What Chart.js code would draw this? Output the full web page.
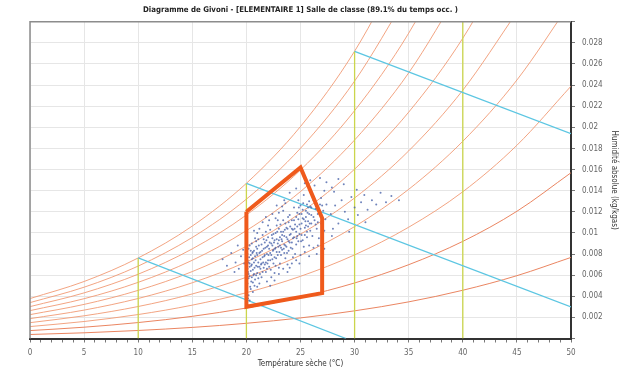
<!DOCTYPE html>
<html lang="fr">
<head>
    <meta charset="UTF-8">
    <title>Diagramme de Givoni</title>
    <script src="https://cdn.jsdelivr.net/npm/chart.js"></script>
    <style>
        body, html {
            margin: 0;
            padding: 0;
            background: #fff;
        }
        canvas { display: block; }
    </style>
</head>
<body>
    <canvas id="givoni" width="631" height="370"></canvas>

    <script>
        // Températures (°C) où les courbes d'humidité relative sont relevées
        const temperatures = [0, 5, 10, 15, 20, 25, 30, 35, 40, 45, 50];

        // Courbes d'humidité relative 10 % ... 100 % (kg/kgas)
        const hr10  = [0.00038, 0.00054, 0.00076, 0.00105, 0.00144, 0.00195, 0.00262, 0.00347, 0.00457, 0.00595, 0.00768];
        const hr20  = [0.00075, 0.00107, 0.00151, 0.00210, 0.00289, 0.00392, 0.00526, 0.00699, 0.00920, 0.01205, 0.01570];
        const hr30  = [0.00113, 0.00161, 0.00227, 0.00316, 0.00434, 0.00589, 0.00792, 0.01054, 0.01390, 0.01830, 0.02390];
        const hr40  = [0.00150, 0.00215, 0.00303, 0.00422, 0.00580, 0.00788, 0.01060, 0.01413, 0.01868, 0.02448, 0.03188];
        const hr50  = [0.00188, 0.00269, 0.00379, 0.00528, 0.00726, 0.00988, 0.01331, 0.01777, 0.02352, 0.03091];
        const hr60  = [0.00226, 0.00323, 0.00456, 0.00634, 0.00874, 0.01190, 0.01604, 0.02144, 0.02844, 0.03750];
        const hr70  = [0.00264, 0.00377, 0.00532, 0.00741, 0.01022, 0.01392, 0.01880, 0.02516, 0.03344];
        const hr80  = [0.00302, 0.00432, 0.00609, 0.00849, 0.01170, 0.01596, 0.02158, 0.02892, 0.03850];
        const hr90  = [0.00340, 0.00486, 0.00686, 0.00957, 0.01320, 0.01802, 0.02438, 0.03273];
        const hr100 = [0.00378, 0.00540, 0.00763, 0.01065, 0.01470, 0.02008, 0.02721, 0.03658];

        // Droites verticales de température sèche (bas -> courbe de saturation)
        const droitesT = [10, 20, 30, 40];
        const droitesTHaut = [0.00763, 0.0147, 0.0272, 0.03];

        // Droites isenthalpes (début sur la saturation, fin au bord)
        const isenthalpesDebut = [[10, 0.00763], [20, 0.0147], [30, 0.0272]];
        const isenthalpesFin = [[29.2, 0], [50, 0.0030], [50, 0.0194]];

        // Zone de confort (polygone)
        const zoneT = [20, 25, 27, 27, 20, 20];
        const zoneW = [0.0120, 0.0162, 0.0114, 0.0043, 0.0030, 0.0120];

        // Heures d'occupation relevées [T, w]
        const heuresOcc = [
            [20.1,0.0052],[20.2,0.0061],[20.3,0.0068],[20.1,0.0074],[20.4,0.0079],[20.2,0.0085],[20.5,0.0058],[20.6,0.0065],
            [20.3,0.0071],[20.7,0.0083],[20.4,0.0047],[20.8,0.0056],[20.9,0.0069],[20.6,0.0076],[20.5,0.0090],[21.0,0.0062],
            [21.1,0.0072],[21.2,0.0081],[20.9,0.0087],[21.3,0.0066],[21.4,0.0058],[21.1,0.0094],[21.5,0.0077],[21.6,0.0085],
            [21.2,0.0052],[21.7,0.0070],[21.8,0.0063],[21.5,0.0098],[21.9,0.0080],[22.0,0.0074],[20.2,0.0041],[20.3,0.0036],
            [20.6,0.0044],[21.0,0.0049],[20.1,0.0080],[20.3,0.0088],[20.7,0.0072],[20.8,0.0095],[21.4,0.0089],[21.7,0.0091],
            [20.4,0.0064],[20.9,0.0060],[21.3,0.0075],[21.6,0.0067],[21.9,0.0087],[20.5,0.0070],[21.0,0.0079],[21.8,0.0101],
            [20.2,0.0057],[20.6,0.0082],
            [22.1,0.0068],[22.2,0.0081],[22.3,0.0090],[22.4,0.0075],[22.5,0.0099],[22.6,0.0062],[22.7,0.0086],[22.8,0.0107],
            [22.9,0.0079],[23.0,0.0093],[23.1,0.0071],[23.2,0.0101],[23.3,0.0084],[23.4,0.0112],[23.5,0.0089],[23.6,0.0076],
            [23.7,0.0096],[23.8,0.0104],[23.9,0.0083],[24.0,0.0117],[22.3,0.0058],[22.5,0.0084],[22.8,0.0094],[23.0,0.0067],
            [23.3,0.0098],[23.6,0.0109],[23.9,0.0092],[22.2,0.0103],[22.6,0.0077],[23.1,0.0088],[23.5,0.0081],[23.8,0.0070],
            [22.4,0.0095],[22.9,0.0112],[23.4,0.0121],[22.0,0.0088],[22.7,0.0069],[23.2,0.0079],[23.7,0.0087],[24.0,0.0098],
            [24.1,0.0086],[24.2,0.0104],[24.3,0.0095],[24.4,0.0112],[24.5,0.0080],[24.6,0.0101],[24.7,0.0119],[24.8,0.0092],
            [24.9,0.0108],[25.0,0.0126],[25.1,0.0098],[25.2,0.0114],[25.3,0.0087],[25.4,0.0105],[25.5,0.0121],[25.6,0.0096],
            [25.7,0.0111],[25.8,0.0130],[25.9,0.0102],[26.0,0.0117],[24.3,0.0077],[24.6,0.0089],[24.9,0.0099],[25.2,0.0093],
            [25.5,0.0107],[25.8,0.0088],[24.4,0.0124],[24.8,0.0131],[25.3,0.0136],[25.7,0.0124],[24.2,0.0091],[24.7,0.0106],
            [25.1,0.0118],[25.6,0.0101],[26.0,0.0109],
            [26.1,0.0097],[26.3,0.0112],[26.4,0.0123],[26.5,0.0104],[26.6,0.0118],[26.8,0.0127],[26.9,0.0109],[27.0,0.0115],
            [27.1,0.0121],[27.2,0.0102],[26.2,0.0131],[26.7,0.0095],[27.3,0.0113],[27.4,0.0127],[26.4,0.0108],[27.0,0.0098],
            [26.9,0.0133],
            [17.8,0.0075],[18.2,0.0069],[18.6,0.0081],[19.0,0.0072],[19.3,0.0066],[19.5,0.0078],[19.7,0.0084],[19.2,0.0088],
            [18.9,0.0063],[19.8,0.0071],
            [23.5,0.0131],[24.0,0.0138],[24.6,0.0142],[25.4,0.0147],[25.9,0.0150],[26.3,0.0145],[26.8,0.0152],[27.4,0.0148],
            [27.9,0.0143],[28.5,0.0151],[28.1,0.0139],[26.0,0.0138],[27.2,0.0140],[29.0,0.0146],[22.8,0.0126],
            [27.8,0.0118],[28.2,0.0126],[28.5,0.0109],[28.8,0.0131],[29.1,0.0120],[29.4,0.0113],[29.7,0.0134],[30.0,0.0124],
            [30.3,0.0117],[30.6,0.0129],[30.9,0.0136],[31.2,0.0122],[31.6,0.0131],[32.0,0.0127],[32.4,0.0138],[32.9,0.0129],
            [33.4,0.0135],[34.1,0.0131],[28.0,0.0104],[29.5,0.0101],[30.2,0.0141],[31.0,0.0110],[27.9,0.0097],
            [20.1,0.0066],[20.2,0.0072],[20.3,0.0059],[20.4,0.0083],[20.5,0.0075],[20.6,0.0053],[20.7,0.0061],[20.8,0.0078],
            [20.9,0.0092],[21.0,0.0085],[21.1,0.0057],[21.2,0.0068],[21.3,0.0082],[21.4,0.0071],[21.5,0.0063],[21.6,0.0094],
            [21.7,0.0079],[21.8,0.0072],[21.9,0.0066],[22.0,0.0096],[22.1,0.0085],[22.2,0.0074],[22.3,0.0079],[22.4,0.0088],
            [22.5,0.0071],[22.6,0.0093],[22.7,0.0100],[22.8,0.0082],[22.9,0.0090],[23.0,0.0104],[23.1,0.0096],[23.2,0.0086],
            [23.3,0.0092],[23.4,0.0101],[23.5,0.0097],[23.6,0.0088],[23.7,0.0105],[23.8,0.0094],[23.9,0.0110],[24.0,0.0091],
            [24.1,0.0099],[24.2,0.0112],[24.3,0.0103],[24.4,0.0096],[24.5,0.0108],[24.6,0.0115],[24.7,0.0097],[24.8,0.0113],
            [24.9,0.0118],[25.0,0.0104],[25.1,0.0109],[25.2,0.0122],[25.3,0.0113],[25.4,0.0098],[25.5,0.0115],[25.6,0.0127],
            [25.7,0.0106],[25.8,0.0118],[25.9,0.0125],[26.0,0.0124],[26.2,0.0115],[26.4,0.0128],[26.6,0.0110],[26.8,0.0121],
            [27.0,0.0126],
            [20.15,0.0063],[20.25,0.0077],[20.35,0.0049],[20.45,0.0069],[20.55,0.0081],[20.65,0.0060],[20.75,0.0067],[20.85,0.0074],
            [20.95,0.0081],[21.05,0.0068],[21.15,0.0088],[21.25,0.0061],[21.35,0.0070],[21.45,0.0083],[21.55,0.0072],[21.65,0.0078],
            [21.75,0.0086],[21.85,0.0093],[21.95,0.0071],[22.05,0.0079],[22.15,0.0091],[22.25,0.0065],[22.35,0.0098],[22.45,0.0083],
            [22.55,0.0091],[22.65,0.0085],[22.75,0.0076],[22.85,0.0101],[22.95,0.0087],[23.05,0.0082],[23.15,0.0108],[23.25,0.0094],
            [23.45,0.0085],[23.55,0.0103],[23.75,0.0081],[23.85,0.0115],[24.05,0.0106],[24.25,0.0085],[24.45,0.0104],[24.65,0.0095],
            [24.85,0.0124],[25.05,0.0092],[25.25,0.0128],[25.45,0.0111],[25.65,0.0119],[25.85,0.0109],[20.05,0.0045],[20.15,0.0038],
            [20.45,0.0054],[20.75,0.0050],
            [21.2,0.0104],[21.5,0.0110],[21.8,0.0115],[22.1,0.0112],[22.4,0.0118],[22.7,0.0114],[23.0,0.0119],[23.3,0.0125],
            [21.0,0.0100],[22.0,0.0107],[20.7,0.0102],[23.6,0.0128],
            [23.0,0.0061],[23.4,0.0066],[23.8,0.0063],[24.2,0.0071],[24.6,0.0074],[25.0,0.0079],[25.4,0.0082],[25.8,0.0078],
            [26.2,0.0086],[26.6,0.0088],[27.0,0.0091],[24.0,0.0067],[24.9,0.0071],[26.5,0.0080],[27.2,0.0085],[22.6,0.0055],
            [21.9,0.0054],[22.2,0.0050]
        ];

        const police = "'DejaVu Sans Condensed', 'DejaVu Sans', sans-serif";
        const courbesHR = [hr10, hr20, hr30, hr40, hr50, hr60, hr70, hr80, hr90, hr100];

        // Cadre gris à gauche et en haut de la zone de tracé
        const cadre = {
            id: 'cadre',
            afterDraw(chart) {
                const { ctx, chartArea: a } = chart;
                ctx.save();
                ctx.strokeStyle = '#8c8c8c';
                ctx.lineWidth = 1.5;
                ctx.beginPath();
                ctx.moveTo(a.left, a.bottom);
                ctx.lineTo(a.left, a.top);
                ctx.lineTo(a.right, a.top);
                ctx.stroke();
                ctx.restore();
            }
        };

        const datasets = [];

        datasets.push({
            label: 'Zone de confort',
            data: zoneT.map((t, i) => ({ x: t, y: zoneW[i] })),
            showLine: true,
            borderColor: '#ef5a1c',
            borderWidth: 4,
            borderJoinStyle: 'miter',
            pointRadius: 0,
            order: 0
        });

        datasets.push({
            label: 'Heures occupées',
            data: heuresOcc.map(p => ({ x: p[0], y: p[1] })),
            pointRadius: 1,
            pointBorderWidth: 0,
            backgroundColor: 'rgba(75, 100, 170, 0.8)',
            order: 1
        });

        isenthalpesDebut.forEach((d, i) => {
            datasets.push({
                data: [{ x: d[0], y: d[1] }, { x: isenthalpesFin[i][0], y: isenthalpesFin[i][1] }],
                showLine: true,
                borderColor: '#5cc6e2',
                borderWidth: 1.3,
                pointRadius: 0,
                order: 2
            });
        });

        droitesT.forEach((t, i) => {
            datasets.push({
                data: [{ x: t, y: 0 }, { x: t, y: droitesTHaut[i] }],
                showLine: true,
                borderColor: '#cbd54c',
                borderWidth: 1.3,
                pointRadius: 0,
                order: 3
            });
        });

        courbesHR.forEach((serie, i) => {
            datasets.push({
                data: serie.map((w, k) => ({ x: temperatures[k], y: w })),
                showLine: true,
                borderColor: i < 2 ? '#e8774f' : '#f19a74',
                borderWidth: 0.9,
                pointRadius: 0,
                cubicInterpolationMode: 'monotone',
                order: 4
            });
        });

        new Chart(document.getElementById('givoni'), {
            type: 'scatter',
            data: { datasets: datasets },
            plugins: [cadre],
            options: {
                responsive: false,
                animation: false,
                layout: { padding: { left: 30, right: 10, top: 0, bottom: 0 } },
                plugins: {
                    legend: { display: false },
                    tooltip: { enabled: false },
                    title: {
                        display: true,
                        fullSize: false,
                        text: 'Diagramme de Givoni - [ELEMENTAIRE 1] Salle de classe (89.1% du temps occ. )',
                        color: '#222',
                        font: { family: police, size: 7.8, weight: 'bold' },
                        padding: { top: 5, bottom: 7.4 }
                    }
                },
                scales: {
                    x: {
                        type: 'linear',
                        min: 0,
                        max: 50,
                        afterFit: function (scale) { scale.height = 31.5; },
                        border: { color: '#333', width: 2 },
                        grid: {
                            color: ctx => (ctx.tick && ctx.tick.value % 5 === 0) ? '#e6e6e6' : 'rgba(0,0,0,0)',
                            tickColor: '#777',
                            tickLength: 4
                        },
                        ticks: {
                            stepSize: 1,
                            autoSkip: false,
                            maxRotation: 0,
                            padding: 6,
                            color: '#666',
                            font: { family: police, size: 8 },
                            callback: v => (v % 5 === 0 ? v : '')
                        },
                        title: {
                            display: true,
                            text: 'Température sèche (°C)',
                            color: '#333',
                            font: { family: police, size: 8 },
                            padding: { top: 0, bottom: 1 }
                        }
                    },
                    y: {
                        type: 'linear',
                        position: 'right',
                        min: 0,
                        max: 0.03,
                        afterFit: function (scale) { scale.width = 50; },
                        border: { color: '#333', width: 2 },
                        grid: {
                            color: '#e6e6e6',
                            tickColor: '#777',
                            tickLength: 4
                        },
                        ticks: {
                            stepSize: 0.002,
                            padding: 7,
                            color: '#666',
                            font: { family: police, size: 8 },
                            callback: v => (v <= 0 || v >= 0.0295 ? '' : String(+v.toFixed(3)))
                        },
                        title: {
                            display: true,
                            text: 'Humidité absolue (kg/kgas)',
                            color: '#333',
                            font: { family: police, size: 8 },
                            padding: { top: 2, bottom: 3 }
                        }
                    }
                }
            }
        });
    </script>
</body>
</html>
